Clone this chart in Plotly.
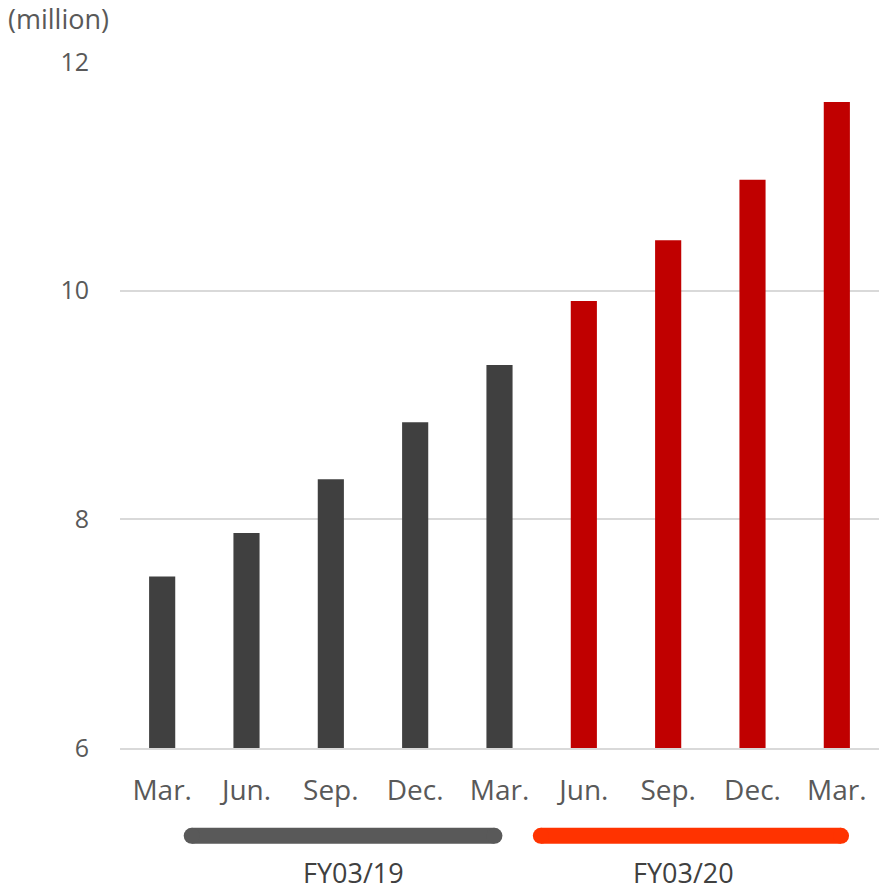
import plotly.graph_objects as go

# ---- data ----
quarters = ["Mar.", "Jun.", "Sep.", "Dec.", "Mar.", "Jun.", "Sep.", "Dec.", "Mar."]
values = [7.50, 7.88, 8.35, 8.85, 9.35, 9.91, 10.44, 10.97, 11.65]
fiscal_year = ["FY03/19", "FY03/19", "FY03/19", "FY03/19", "FY03/19",
               "FY03/20", "FY03/20", "FY03/20", "FY03/20"]
group_labels = ["FY03/19", "FY03/20"]
y_ticks = [6, 8, 10, 12]
unit_label = "(million)"

# ---- styling ----
bar_colors = {"FY03/19": "#404040", "FY03/20": "#C00000"}
group_line_colors = {"FY03/19": "#595959", "FY03/20": "#FF3300"}
# span of each group's bracket and label position (in category-index units)
group_spans = {"FY03/19": (0.35, 3.94), "FY03/20": (4.49, 8.05)}
group_label_x = {"FY03/19": 2.27, "FY03/20": 6.18}
text_color = "#595959"
font_family = "Open Sans, Noto Sans, sans-serif"

x_idx = list(range(len(quarters)))

fig = go.Figure()
fig.add_trace(go.Bar(
    x=x_idx,
    y=values,
    marker=dict(color=[bar_colors[g] for g in fiscal_year], line=dict(width=0)),
    width=0.31,
    hoverinfo="y",
))

shapes = []
annotations = []
line_y = -0.128
for g in group_labels:
    x0, x1 = group_spans[g]
    col = group_line_colors[g]
    shapes.append(dict(type="rect", xref="x", yref="paper", x0=x0, x1=x1,
                       ysizemode="pixel", yanchor=line_y, y0=-8, y1=8,
                       fillcolor=col, line=dict(width=0), layer="above"))
    for xc in (x0, x1):
        shapes.append(dict(type="circle", xref="x", yref="paper",
                           xsizemode="pixel", ysizemode="pixel",
                           xanchor=xc, yanchor=line_y, x0=-8, x1=8, y0=-8, y1=8,
                           fillcolor=col, line=dict(width=0), layer="above"))
    annotations.append(dict(text=g, xref="x", yref="paper", x=group_label_x[g],
                            y=-0.181, yanchor="middle", xanchor="center",
                            showarrow=False,
                            font=dict(size=27, color="#404040", family=font_family)))

annotations.append(dict(text=unit_label, xref="paper", yref="paper", x=0, y=1,
                        xshift=-114, yshift=44, xanchor="left", yanchor="middle",
                        showarrow=False,
                        font=dict(size=27, color=text_color, family=font_family)))

fig.update_layout(
    width=879, height=891,
    margin=dict(l=120, r=0, t=62, b=143),
    plot_bgcolor="white", paper_bgcolor="white",
    showlegend=False,
    shapes=shapes,
    annotations=annotations,
    font=dict(family=font_family, color=text_color),
)
fig.update_xaxes(
    tickmode="array", tickvals=x_idx, ticktext=quarters,
    range=[-0.5, 8.5],
    showline=True, linecolor="#d9d9d9", linewidth=1.5,
    showgrid=False, ticks="",
    tickfont=dict(size=28, color=text_color, family=font_family),
    ticklabelstandoff=17,
)
fig.update_yaxes(
    range=[6, 12], tickvals=y_ticks,
    showgrid=True, gridcolor="#d9d9d9", gridwidth=1.5,
    zeroline=False, showline=False, ticks="",
    tickfont=dict(size=25, color=text_color, family=font_family),
    ticklabelstandoff=30,
)

fig.write_html("out.html")
